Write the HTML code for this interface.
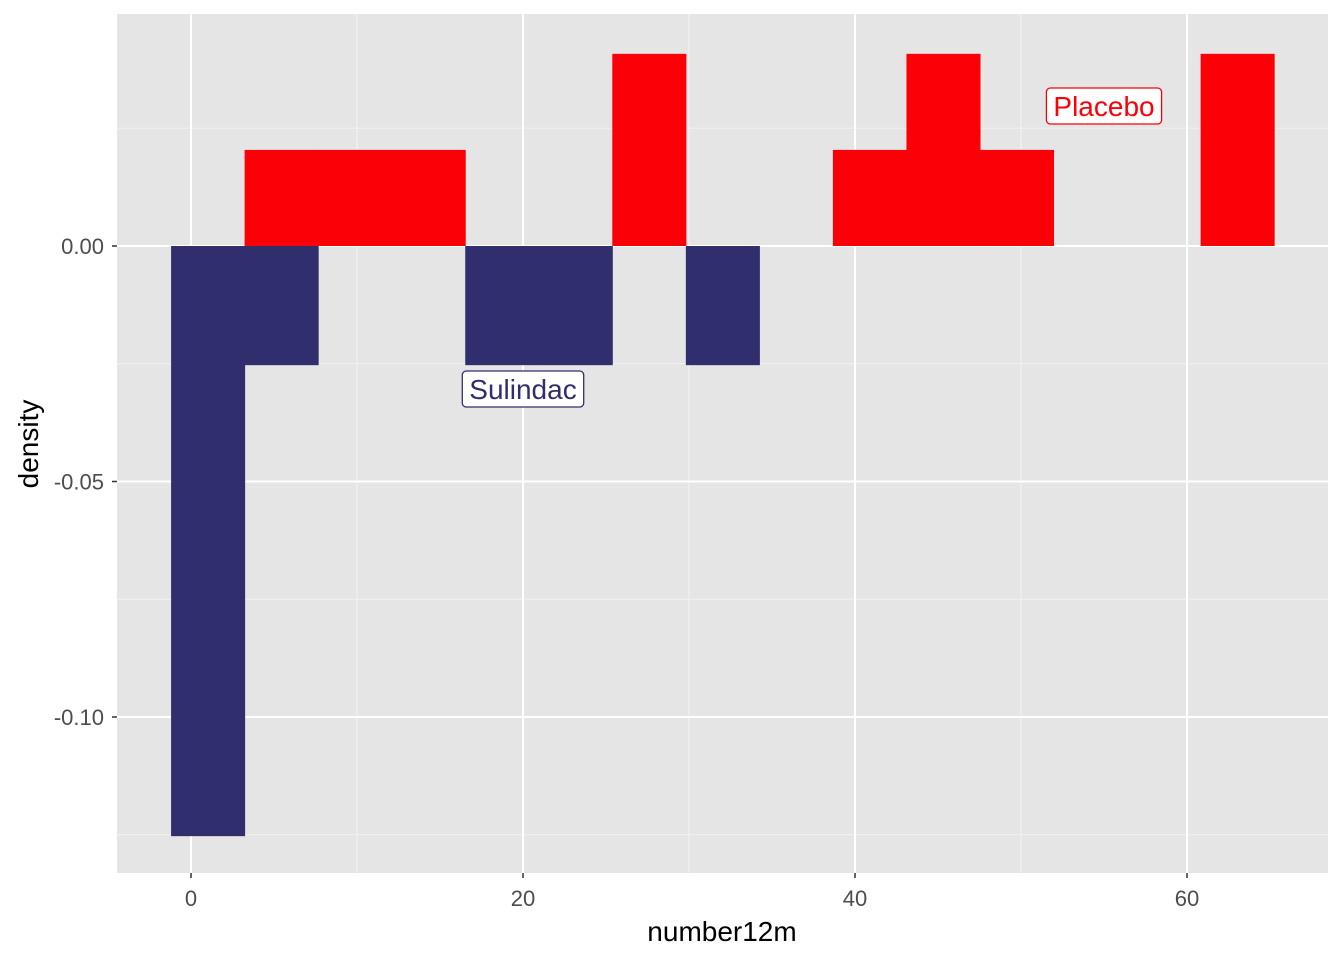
<!DOCTYPE html>
<html><head><meta charset="utf-8"><style>
body{margin:0;background:#fff;}
svg{display:block;font-family:"Liberation Sans",Arial,sans-serif;}
</style></head><body>
<svg id="chart" width="1344" height="960"></svg>
<script>
const binIndex=[0,1,2,3,4,5,6,7,8,9,10,11,12,13,14];
const binStart=-1.2;
const binWidth=4.43;
const placeboDensity=[0,0.0204,0.0204,0.0204,0,0,0.0408,0,0,0.0204,0.0408,0.0204,0,0,0.0408];
const sulindacDensity=[-0.1253,-0.0253,0,0,-0.0253,-0.0253,0,-0.0253,0,0,0,0,0,0,0];
const xTicks=[0,20,40,60];
const xMinor=[10,30,50];
const yTicks=[0,-0.05,-0.10];
const yTickLabels=["0.00","-0.05","-0.10"];
const yMinor=[0.025,-0.025,-0.075,-0.125];

const NS="http://www.w3.org/2000/svg";
const svg=document.getElementById('chart');
const P={l:117,r:1328,t:14,b:873};
const xs=v=>191+(v)*16.6;
const ys=v=>246-v*4710;
function mk(t,a){const e=document.createElementNS(NS,t);for(const k in a)e.setAttribute(k,a[k]);svg.appendChild(e);return e;}
let bg=mk('rect',{x:P.l,y:P.t,width:P.r-P.l,height:P.b-P.t,fill:'#e5e5e5'});


yMinor.forEach(v=>{let l=mk('line',{x1:P.l,x2:P.r,y1:ys(v),y2:ys(v),stroke:'#f2f2f2','stroke-width':1});

});
xMinor.forEach(v=>{let l=mk('line',{x1:xs(v),x2:xs(v),y1:P.t,y2:P.b,stroke:'#f2f2f2','stroke-width':1});

});
yTicks.forEach((v,i)=>{let l=mk('line',{x1:P.l,x2:P.r,y1:ys(v),y2:ys(v),stroke:'#fff','stroke-width':2});


let t=mk('line',{x1:P.l-5,x2:P.l,y1:ys(v),y2:ys(v),stroke:'#333','stroke-width':1.5});


let tx=mk('text',{x:P.l-13,y:ys(v)+8,'text-anchor':'end','font-size':'22px',fill:'#4d4d4d'});tx.textContent=yTickLabels[i];

});
xTicks.forEach(v=>{let l=mk('line',{x1:xs(v),x2:xs(v),y1:P.t,y2:P.b,stroke:'#fff','stroke-width':2});


let t=mk('line',{x1:xs(v),x2:xs(v),y1:P.b,y2:P.b+5,stroke:'#333','stroke-width':1.5});


let tx=mk('text',{x:xs(v),y:P.b+33,'text-anchor':'middle','font-size':'22px',fill:'#4d4d4d'});tx.textContent=v;

});
binIndex.forEach((c,i)=>{
 const x0=xs(binStart+c*binWidth),x1=xs(binStart+(c+1)*binWidth);
 if(placeboDensity[i]){let r=mk('rect',{x:x0,y:ys(placeboDensity[i]),width:x1-x0+0.5,height:ys(0)-ys(placeboDensity[i]),fill:'#fc0007'});
 
 }
 if(sulindacDensity[i]){let r=mk('rect',{x:x0,y:ys(0),width:x1-x0+0.5,height:ys(sulindacDensity[i])-ys(0),fill:'#312e6d'});
 
 }
});
function label(txt,cx,cy,col,name){
 let r=mk('rect',{x:cx-65,y:cy-18,width:130,height:36,rx:4,fill:'#fff',stroke:col,'stroke-width':1.3});
 let t=mk('text',{x:cx,y:cy+10,'text-anchor':'middle','font-size':'28px',fill:col});t.textContent=txt;
 const w=t.getBBox().width+14;r.setAttribute('x',cx-w/2);r.setAttribute('width',w);
 
 
 
 
}
label('Sulindac',523,389,'#312e6d','sulindac-label');
label('Placebo',1104,106,'#fc0007','placebo-label');
let xt=mk('text',{x:722,y:941,'text-anchor':'middle','font-size':'28px',fill:'#000'});xt.textContent='number12m';


let yt=mk('text',{x:38,y:444,'text-anchor':'middle','font-size':'28px',fill:'#000',transform:'rotate(-90 38 444)'});yt.textContent='density';


</script>
</body></html>
